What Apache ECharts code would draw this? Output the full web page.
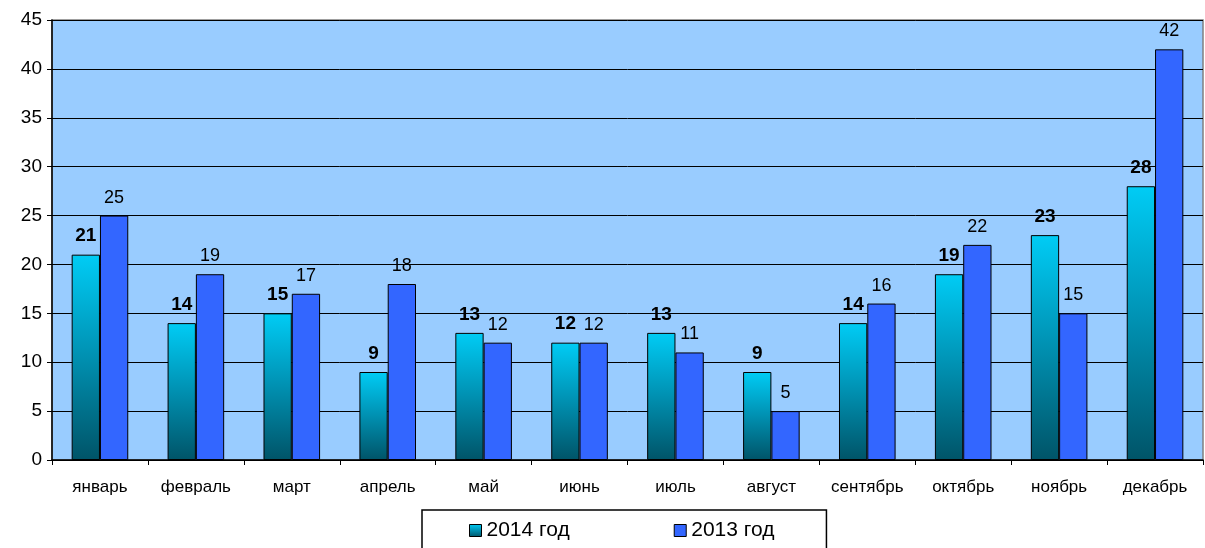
<!DOCTYPE html>
<html>
<head>
<meta charset="utf-8">
<script src="https://cdn.jsdelivr.net/npm/echarts@6/dist/echarts.min.js"></script>
<style>html,body{margin:0;padding:0;background:#fff;}#c{width:1205px;height:548px;}</style>
</head>
<body>
<div id="c"></div>
<script>
const categories = ['январь','февраль','март','апрель','май','июнь','июль','август','сентябрь','октябрь','ноябрь','декабрь'];
const values2014 = [21,14,15,9,13,12,13,9,14,19,23,28];
const values2013 = [25,19,17,18,12,12,11,5,16,22,15,42];
const seriesNames = ['2014 год','2013 год'];

const chart = echarts.init(document.getElementById('c'));
const font = 'Arial, "Liberation Sans", sans-serif';
chart.setOption({
  animation: false,
  textStyle: { fontFamily: font },
  grid: { left: 52, right: 2, top: 20, bottom: 88, show: true, backgroundColor: '#99CCFF', borderColor: '#808080', borderWidth: 1.5 },
  legend: {
    left: 422, top: 510,
    data: seriesNames,
    itemWidth: 12, itemHeight: 12, itemGap: 104,
    borderColor: '#000', borderWidth: 1.5,
    padding: [10, 52, 14, 47],
    textStyle: { fontSize: 21, color: '#000', fontFamily: font },
    icon: 'rect',
    itemStyle: { borderColor: '#000', borderWidth: 1 }
  },
  xAxis: {
    type: 'category', data: categories,
    axisLine: { lineStyle: { color: '#000', width: 1.5 } },
    axisTick: { show: true, length: 5, lineStyle: { color: '#000' } },
    axisLabel: { fontSize: 17, color: '#000', margin: 19, fontFamily: font },
    splitLine: { show: false }
  },
  yAxis: {
    type: 'value', min: 0, max: 45, interval: 5,
    axisLine: { show: true, lineStyle: { color: '#000', width: 1.5 } },
    axisTick: { show: true, length: 5, lineStyle: { color: '#000' } },
    axisLabel: { fontSize: 19, color: '#000', margin: 10, fontFamily: font },
    splitLine: { show: true, lineStyle: { color: '#000', width: 1 } }
  },
  series: [
    {
      name: seriesNames[0], type: 'bar', data: values2014,
      barGap: '0%', barCategoryGap: '41%',
      itemStyle: {
        borderColor: '#000', borderWidth: 1,
        color: new echarts.graphic.LinearGradient(0, 0, 0, 1, [
          { offset: 0, color: '#00CCF5' },
          { offset: 0.45, color: '#0096B8' },
          { offset: 1, color: '#005468' }
        ])
      },
      label: { show: true, position: 'top', distance: 9, fontSize: 19, fontWeight: 'bold', color: '#000', fontFamily: font }
    },
    {
      name: seriesNames[1], type: 'bar', data: values2013,
      itemStyle: { color: '#3366FF', borderColor: '#000', borderWidth: 1 },
      label: { show: true, position: 'top', distance: 9, fontSize: 18, color: '#000', fontFamily: font }
    }
  ]
});
</script>
</body>
</html>
